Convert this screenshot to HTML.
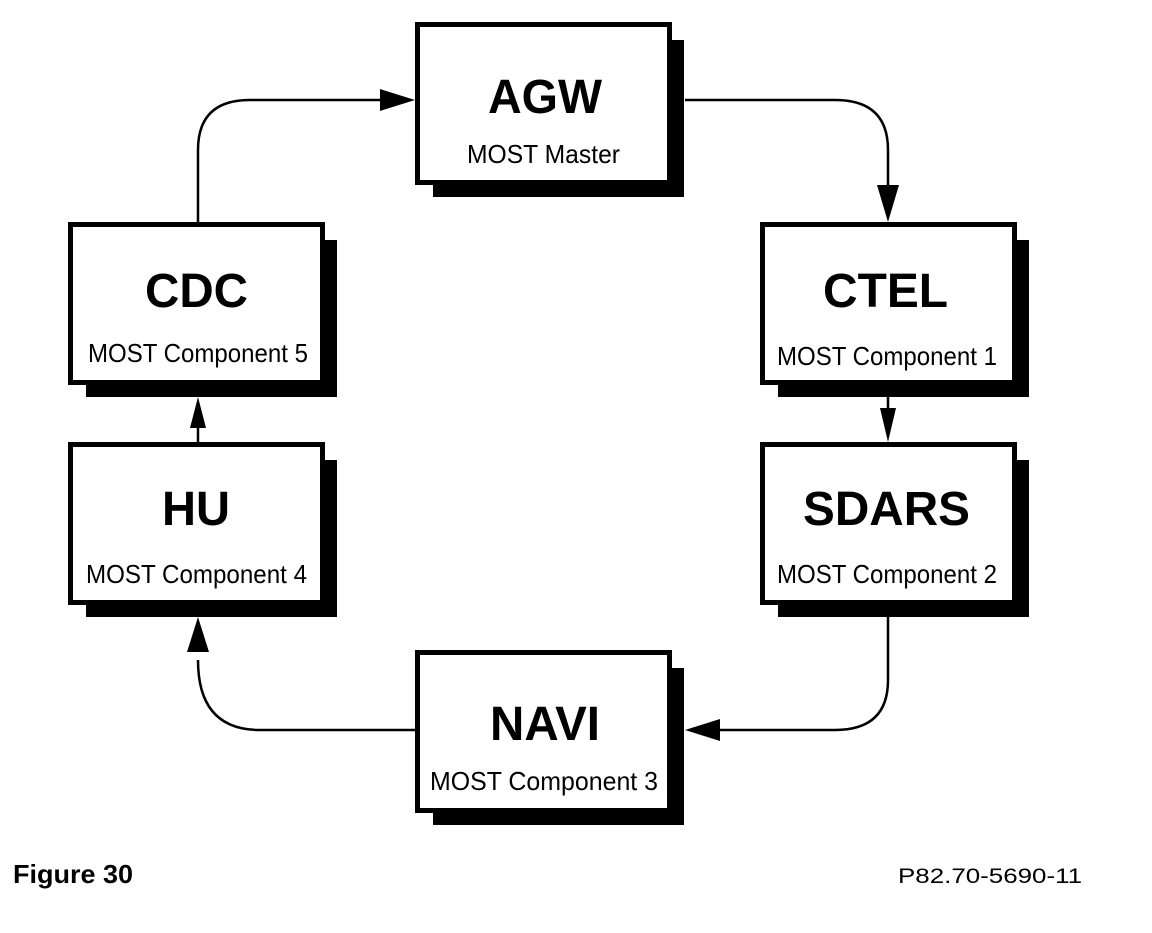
<!DOCTYPE html>
<html><head><style>
body{margin:0;background:#fff;width:1152px;height:928px;overflow:hidden;font-family:"Liberation Sans",sans-serif}
</style></head><body>
<svg width="1152" height="928" xmlns="http://www.w3.org/2000/svg">
<g fill="none" stroke="#000" stroke-width="2.5">
<path d="M198,222 V150 Q198,100 250,100 H380"/>
<path d="M685,100 H835 Q888,100 888,150 V185"/>
<path d="M888,397 V408"/>
<path d="M888,617 V680 Q888,730 835,730 H720"/>
<path d="M415,730 H260 Q198,730 198,660"/>
<path d="M198,442 V425"/>
</g>
<g fill="#000">
<polygon points="380,89 415,100 380,111"/>
<polygon points="877,185 888,222 899,185"/>
<polygon points="880,408 888,442 896,408"/>
<polygon points="720,719 685,730 720,741"/>
<polygon points="187,652 198,617 209,652"/>
<polygon points="190,428 198,397 206,428"/>
</g>
<g>
<rect x="433" y="40" width="251" height="157" fill="#000"/>
<rect x="417.5" y="24.5" width="252" height="158" fill="#fff" stroke="#000" stroke-width="5"/>
<rect x="86" y="240" width="251" height="157" fill="#000"/>
<rect x="70.5" y="224.5" width="252" height="158" fill="#fff" stroke="#000" stroke-width="5"/>
<rect x="86" y="460" width="251" height="157" fill="#000"/>
<rect x="70.5" y="444.5" width="252" height="158" fill="#fff" stroke="#000" stroke-width="5"/>
<rect x="778" y="240" width="251" height="157" fill="#000"/>
<rect x="762.5" y="224.5" width="252" height="158" fill="#fff" stroke="#000" stroke-width="5"/>
<rect x="778" y="460" width="251" height="157" fill="#000"/>
<rect x="762.5" y="444.5" width="252" height="158" fill="#fff" stroke="#000" stroke-width="5"/>
<rect x="433" y="668" width="251" height="157" fill="#000"/>
<rect x="417.5" y="652.5" width="252" height="158" fill="#fff" stroke="#000" stroke-width="5"/>
</g>
<g font-family="Liberation Sans, sans-serif" lengthAdjust="spacingAndGlyphs">
<g font-weight="bold" font-size="48">
<text x="488" y="113" textLength="114" lengthAdjust="spacingAndGlyphs">AGW</text>
<text x="145" y="307" textLength="103" lengthAdjust="spacingAndGlyphs">CDC</text>
<text x="162" y="525" textLength="68" lengthAdjust="spacingAndGlyphs">HU</text>
<text x="823" y="307" textLength="125" lengthAdjust="spacingAndGlyphs">CTEL</text>
<text x="803" y="525" textLength="167" lengthAdjust="spacingAndGlyphs">SDARS</text>
<text x="490" y="740" textLength="110" lengthAdjust="spacingAndGlyphs">NAVI</text>
</g>
<g font-size="26">
<text x="467" y="163" textLength="153" lengthAdjust="spacingAndGlyphs">MOST Master</text>
<text x="88" y="362" textLength="220" lengthAdjust="spacingAndGlyphs">MOST Component 5</text>
<text x="86" y="583" textLength="221" lengthAdjust="spacingAndGlyphs">MOST Component 4</text>
<text x="777" y="365" textLength="220" lengthAdjust="spacingAndGlyphs">MOST Component 1</text>
<text x="777" y="583" textLength="220" lengthAdjust="spacingAndGlyphs">MOST Component 2</text>
<text x="430" y="790" textLength="228" lengthAdjust="spacingAndGlyphs">MOST Component 3</text>
</g>
</g>
<text x="13" y="883" font-weight="bold" font-size="26" textLength="120" lengthAdjust="spacingAndGlyphs" font-family="Liberation Sans, sans-serif">Figure 30</text>
<text x="898" y="883" font-size="21" textLength="184" lengthAdjust="spacingAndGlyphs" font-family="Liberation Sans, sans-serif">P82.70-5690-11</text>
</svg>
</body></html>
